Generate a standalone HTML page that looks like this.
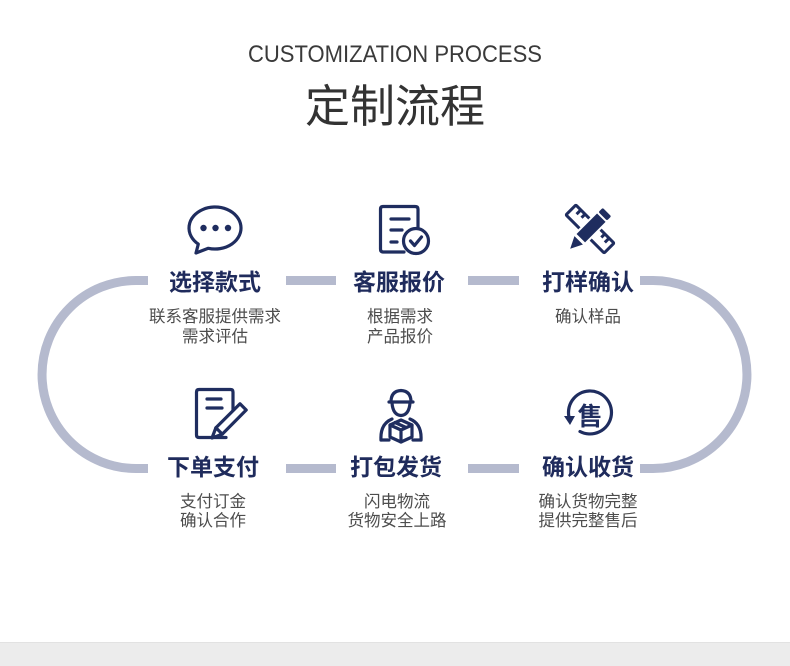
<!DOCTYPE html>
<html><head><meta charset="utf-8"><style>
html,body{margin:0;padding:0;background:#fff;}
svg{display:block;}
.t{font-family:"Liberation Sans","Noto Sans CJK SC",sans-serif;font-weight:700;font-size:23px;fill:#1f2b5c;text-anchor:middle;}
.s{font-family:"Liberation Sans","Noto Sans CJK SC",sans-serif;font-size:16.5px;fill:#4d4d4d;text-anchor:middle;}
</style></head><body>
<svg width="790" height="666" viewBox="0 0 790 666" xmlns="http://www.w3.org/2000/svg">
<rect x="0" y="0" width="790" height="666" fill="#fff"/>
<rect x="0" y="642" width="790" height="24" fill="#ececec"/>
<rect x="0" y="642" width="790" height="1" fill="#e2e2e2"/>

<text x="395" y="62" textLength="294" lengthAdjust="spacingAndGlyphs" style="font-family:'Liberation Sans',sans-serif;font-size:24px;fill:#3a3a3a;text-anchor:middle;">CUSTOMIZATION PROCESS</text>
<text x="395" y="122" style="font-family:'Liberation Sans','Noto Sans CJK SC',sans-serif;font-size:45px;fill:#333;text-anchor:middle;">定制流程</text>

<!-- connectors -->
<g fill="none" stroke="#b5bace" stroke-width="9">
<path d="M148,280.5 H136 A94,94 0 0 0 136,468.5 H148"/>
<path d="M640,280.5 H653 A94,94 0 0 1 653,468.5 H640"/>
</g>
<g fill="#b5bace">
<rect x="286" y="276" width="50" height="9"/>
<rect x="468" y="276" width="51" height="9"/>
<rect x="286" y="464" width="50" height="9"/>
<rect x="468" y="464" width="51" height="9"/>
</g>

<!-- titles -->
<text class="t" x="215" y="290">选择款式</text>
<text class="t" x="399" y="290">客服报价</text>
<text class="t" x="588" y="290">打样确认</text>
<text class="t" x="213" y="475">下单支付</text>
<text class="t" x="396" y="475">打包发货</text>
<text class="t" x="588" y="475">确认收货</text>

<text class="s" x="215" y="322">联系客服提供需求</text>
<text class="s" x="215" y="342">需求评估</text>
<text class="s" x="400" y="322">根据需求</text>
<text class="s" x="400" y="342">产品报价</text>
<text class="s" x="588" y="322">确认样品</text>
<text class="s" x="213" y="507">支付订金</text>
<text class="s" x="213" y="526">确认合作</text>
<text class="s" x="397" y="507">闪电物流</text>
<text class="s" x="397" y="526">货物安全上路</text>
<text class="s" x="588" y="507">确认货物完整</text>
<text class="s" x="588" y="526">提供完整售后</text>

<!-- icons -->
<g fill="none" stroke="#1f2d5f" stroke-width="3.2" stroke-linejoin="round" stroke-linecap="round">
  <!-- chat bubble -->
  <path d="M208.3,248.3 A26,21 0 1 0 198.3,244.1 L196,253 Z"/>
  <!-- doc check -->
  <path d="M404,252 H383 Q380.5,252 380.5,249 V209 Q380.5,206.5 383,206.5 H415 Q418,206.5 418,209 V227"/>
  <line x1="391" y1="219" x2="409" y2="219"/>
  <line x1="391" y1="230" x2="402" y2="230"/>
  <line x1="391" y1="242" x2="397" y2="242"/>
  <circle cx="416" cy="241" r="12.5" fill="#fff"/>
  <polyline points="410.5,241 414.5,245.5 421.5,237"/>
  <!-- doc pencil -->
  <path d="M226,437.5 H199 Q196.5,437.5 196.5,435 V392 Q196.5,389.5 199,389.5 H230.5 Q233,389.5 233,392 V414"/>
  <line x1="207" y1="399" x2="221" y2="399"/>
  <line x1="207" y1="408" x2="222" y2="408"/>
  <path d="M212,438 L222.3,434.1 L246.2,410 L240,403.8 L215.9,427.7 Z" fill="#fff"/>
  <line x1="215.9" y1="427.7" x2="222.3" y2="434.1"/>
  <!-- delivery man -->
  <path d="M389,402 H413"/>
  <path d="M391,402 Q391,391 401,390.5 Q411,391 411,402"/>
  <path d="M392,403 Q393,415 401,415.5 Q409,415 410,403"/>
  <path d="M381,440 Q380,424 392,419 M421,440 Q422,424 410,419"/>
  <path d="M381,440 H389 M413,440 H421"/>
  <path d="M401,420 L412,425 L412,437 L401,442 L390,437 L390,425 Z" fill="#fff"/>
  <path d="M390,425 L401,430 L412,425 M401,430 V442 M395,422.5 L406,427.5"/>
  <!-- 售 circle -->
  <path d="M569.5,419 A21.5,21.5 0 1 1 580,431.5"/>
</g>
<g fill="#1f2d5f">
  <circle cx="203.5" cy="228" r="3.2"/>
  <circle cx="215.5" cy="228" r="3.2"/>
  <circle cx="228" cy="228" r="3.2"/>
</g>
<polygon points="564,416 575,416 570,425" fill="#1f2d5f"/>
<text x="590" y="425" style="font-family:'Noto Sans CJK SC',sans-serif;font-weight:700;font-size:25px;fill:#1f2d5f;text-anchor:middle;">售</text>

<!-- ruler + pencil -->
<g transform="translate(590,229)">
  <g transform="rotate(45)" fill="none" stroke="#1f2d5f" stroke-width="3">
    <rect x="-27" y="-7" width="54" height="14" rx="1"/>
    <line x1="-20" y1="-7" x2="-20" y2="-1"/>
    <line x1="-14" y1="-7" x2="-14" y2="-2"/>
    <line x1="14" y1="-7" x2="14" y2="-2"/>
    <line x1="20" y1="-7" x2="20" y2="-1"/>
  </g>
  <g transform="rotate(-45)">
    <path d="M-29,0 L-15,-8 H24 Q26,-8 26,-6 V6 Q26,8 24,8 H-15 Z" fill="#fff"/>
    <path d="M-28,0 L-16,-6 L-16,6 Z" fill="#1f2d5f"/>
    <rect x="-13" y="-6" width="29" height="12" fill="#1f2d5f"/>
    <rect x="18" y="-6" width="6" height="12" rx="1.5" fill="#1f2d5f"/>
  </g>
</g>
</svg>
</body></html>
